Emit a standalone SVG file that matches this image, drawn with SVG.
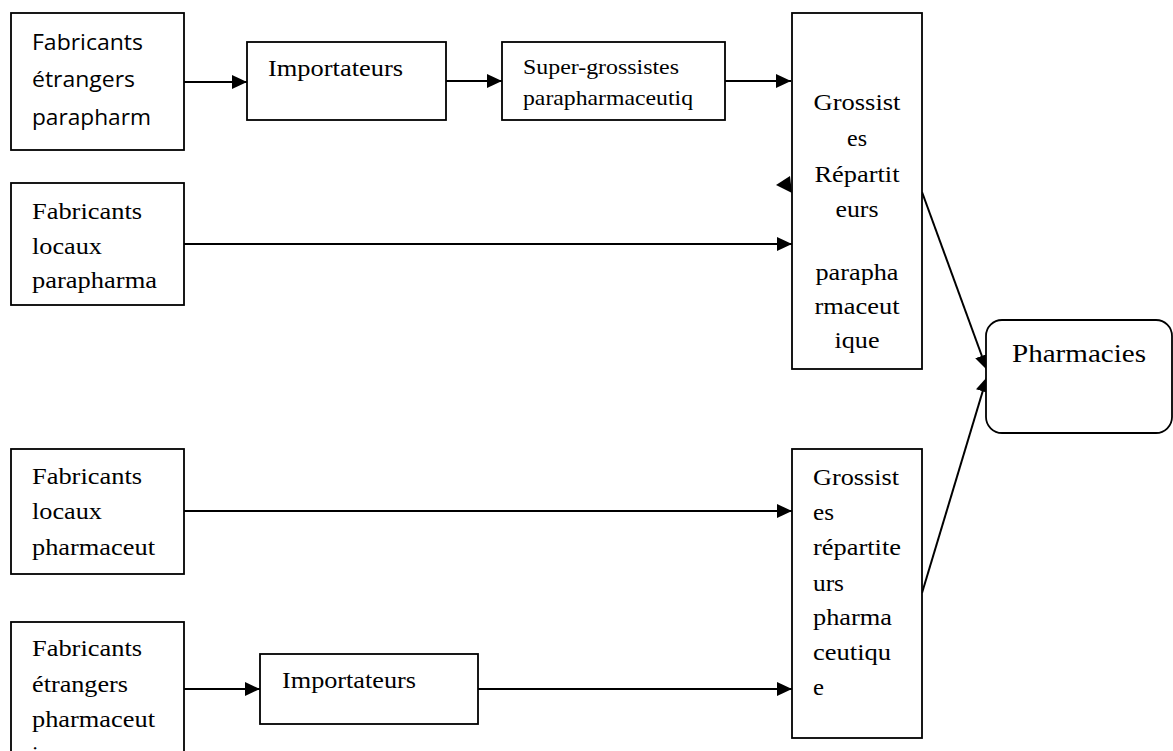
<svg xmlns="http://www.w3.org/2000/svg" width="1173" height="751" viewBox="0 0 1173 751">
<style>
.box{fill:#fff;stroke:#000;stroke-width:1.8}
.ser{font-family:"Liberation Serif","Times New Roman",serif;font-size:23.5px;fill:#000}
.sm{font-size:21px}
.big{font-size:25.5px}
.sans{font-family:"Open Sans","Noto Sans",sans-serif;font-size:21px;fill:#000}
.c{text-anchor:middle}
.ln{stroke:#000;stroke-width:2;fill:none;marker-end:url(#ah)}
</style>
<defs>
<marker id="ah" markerUnits="userSpaceOnUse" markerWidth="16" markerHeight="14" refX="15" refY="7" orient="auto">
<path d="M0,0 L15,7 L0,14 z" fill="#000"/>
</marker>
</defs>
<rect width="1173" height="751" fill="#fff"/>
<g id="connectors">
<path class="ln" d="M184,82 H247"/>
<path class="ln" d="M446,81 H502"/>
<path class="ln" d="M725,81 H791"/>
<path class="ln" d="M184,244 H792"/>
<path class="ln" d="M922,192 L987,370"/>
<path class="ln" d="M922,593 L987,377"/>
<path class="ln" d="M184,511 H792"/>
<path class="ln" d="M184,689 H260"/>
<path class="ln" d="M478,689 H792"/>
<polygon points="776,185 790,176 792,193" fill="#000"/>
</g>
<g id="fab-etr-para">
<rect class="box" x="11" y="13" width="173" height="137"/>
<text class="sans" x="32" y="50" textLength="111" lengthAdjust="spacingAndGlyphs">Fabricants</text>
<text class="sans" x="32" y="87" textLength="103" lengthAdjust="spacingAndGlyphs">étrangers</text>
<text class="sans" x="32" y="125" textLength="119" lengthAdjust="spacingAndGlyphs">parapharm</text>
</g>
<g id="import-top">
<rect class="box" x="247" y="42" width="199" height="78"/>
<text class="ser" x="268" y="76" textLength="135" lengthAdjust="spacingAndGlyphs">Importateurs</text>
</g>
<g id="super">
<rect class="box" x="502" y="42" width="223" height="78"/>
<text class="ser sm" x="523" y="74" textLength="156" lengthAdjust="spacingAndGlyphs">Super-grossistes</text>
<text class="ser sm" x="523" y="105" textLength="170" lengthAdjust="spacingAndGlyphs">parapharmaceutiq</text>
</g>
<g id="fab-loc-para">
<rect class="box" x="11" y="183" width="173" height="122"/>
<text class="ser" x="32" y="219" textLength="110" lengthAdjust="spacingAndGlyphs">Fabricants</text>
<text class="ser" x="32" y="254" textLength="70" lengthAdjust="spacingAndGlyphs">locaux</text>
<text class="ser" x="32" y="288" textLength="125" lengthAdjust="spacingAndGlyphs">parapharma</text>
</g>
<g id="gross-para">
<rect class="box" x="792" y="13" width="130" height="356"/>
<text class="ser c" x="857" y="110" textLength="87" lengthAdjust="spacingAndGlyphs">Grossist</text>
<text class="ser c" x="857" y="146" textLength="20" lengthAdjust="spacingAndGlyphs">es</text>
<text class="ser c" x="857" y="182" textLength="85" lengthAdjust="spacingAndGlyphs">Répartit</text>
<text class="ser c" x="857" y="217" textLength="43" lengthAdjust="spacingAndGlyphs">eurs</text>
<text class="ser c" x="857" y="280" textLength="83" lengthAdjust="spacingAndGlyphs">parapha</text>
<text class="ser c" x="857" y="314" textLength="85" lengthAdjust="spacingAndGlyphs">rmaceut</text>
<text class="ser c" x="857" y="348" textLength="45" lengthAdjust="spacingAndGlyphs">ique</text>
</g>
<g id="pharmacies">
<rect class="box" x="986" y="320" width="186" height="113" rx="16" ry="16"/>
<text class="ser big" x="1012" y="362" textLength="134" lengthAdjust="spacingAndGlyphs">Pharmacies</text>
</g>
<g id="fab-loc-pharma">
<rect class="box" x="11" y="449" width="173" height="125"/>
<text class="ser" x="32" y="484" textLength="110" lengthAdjust="spacingAndGlyphs">Fabricants</text>
<text class="ser" x="32" y="519" textLength="70" lengthAdjust="spacingAndGlyphs">locaux</text>
<text class="ser" x="32" y="555" textLength="123" lengthAdjust="spacingAndGlyphs">pharmaceut</text>
</g>
<g id="fab-etr-pharma">
<rect class="box" x="11" y="622" width="173" height="145"/>
<text class="ser" x="32" y="656" textLength="110" lengthAdjust="spacingAndGlyphs">Fabricants</text>
<text class="ser" x="32" y="692" textLength="96" lengthAdjust="spacingAndGlyphs">étrangers</text>
<text class="ser" x="32" y="727" textLength="123" lengthAdjust="spacingAndGlyphs">pharmaceut</text>
<text class="ser" x="32" y="762">ique</text>
</g>
<g id="import-bottom">
<rect class="box" x="260" y="654" width="218" height="70"/>
<text class="ser" x="282" y="688" textLength="134" lengthAdjust="spacingAndGlyphs">Importateurs</text>
</g>
<g id="gross-pharma">
<rect class="box" x="792" y="449" width="130" height="289"/>
<text class="ser" x="813" y="485" textLength="86" lengthAdjust="spacingAndGlyphs">Grossist</text>
<text class="ser" x="813" y="520" textLength="21" lengthAdjust="spacingAndGlyphs">es</text>
<text class="ser" x="813" y="555" textLength="88" lengthAdjust="spacingAndGlyphs">répartite</text>
<text class="ser" x="813" y="591" textLength="31" lengthAdjust="spacingAndGlyphs">urs</text>
<text class="ser" x="813" y="625" textLength="79" lengthAdjust="spacingAndGlyphs">pharma</text>
<text class="ser" x="813" y="660" textLength="78" lengthAdjust="spacingAndGlyphs">ceutiqu</text>
<text class="ser" x="813" y="695" textLength="11" lengthAdjust="spacingAndGlyphs">e</text>
</g>
</svg>
